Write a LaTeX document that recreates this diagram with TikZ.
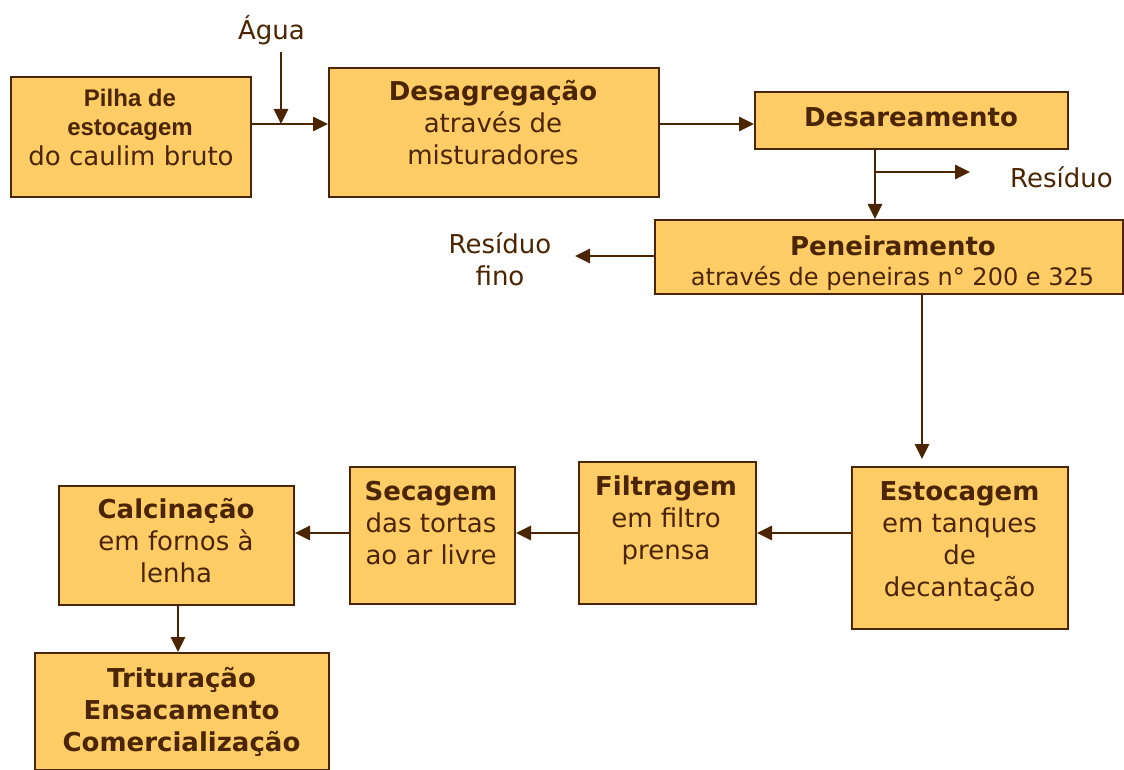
\documentclass[tikz,border=0pt]{standalone}
\usepackage{fontspec}
\setmainfont{DejaVu Sans}
\newfontfamily\arialb{Liberation Sans}
\usetikzlibrary{arrows.meta}
\definecolor{boxfill}{HTML}{FFCC66}
\definecolor{ink}{HTML}{4A2500}
\newcommand{\pilhafont}{\arialb\bfseries\fontsize{24}{32}\selectfont}
\tikzset{
  box/.style={draw=ink, line width=2pt, fill=boxfill, inner sep=0pt, anchor=north west},
  txt/.style={text=ink, align=center, font=\fontsize{26}{32}\selectfont, inner sep=0pt,
    execute at begin node=\strut, execute at end node=\strut},
  small/.style={font=\fontsize{24}{32}\selectfont},
  flow/.style={draw=ink, line width=2.8pt, -{Triangle[length=15pt,width=14pt]}}
}
\begin{document}
\begin{tikzpicture}[x=1pt,y=-1pt]
\useasboundingbox (0,0) rectangle (1124,770);
% boxes
\node[box, minimum width=240pt, minimum height=120pt] (b1) at (10,76) {};
\node[box, minimum width=330pt, minimum height=129pt] (b2) at (328,67) {};
\node[box, minimum width=313pt, minimum height=57pt] (b3) at (754,91) {};
\node[box, minimum width=468pt, minimum height=74pt] (b4) at (654,219) {};
\node[box, minimum width=216pt, minimum height=162pt] (b5) at (851,466) {};
\node[box, minimum width=177pt, minimum height=142pt] (b6) at (578,461) {};
\node[box, minimum width=165pt, minimum height=137pt] (b7) at (349,466) {};
\node[box, minimum width=235pt, minimum height=119pt] (b8) at (58,485) {};
\node[box, minimum width=294pt, minimum height=117pt] (b9) at (34,652) {};
% texts
\node[txt] (t1a) at (130,100.5) {\pilhafont Pilha de};
\node[txt] (t1b) at (130,129.5) {\pilhafont estocagem};
\node[txt] (t1c) at (131,159.5) {do caulim bruto};
\node[txt] (t2) at (493,127.5) {\textbf{Desagregação}\\através de\\misturadores};
\node[txt] (t3) at (911,120) {\textbf{Desareamento}};
\node[txt] (t4a) at (893,249) {\textbf{Peneiramento}};
\node[txt, small] (t4b) at (892.5,279) {através de peneiras n° 200 e 325};
\node[txt] (t5) at (959.5,544) {\textbf{Estocagem}\\em tanques\\de\\decantação};
\node[txt] (t6) at (666,522) {\textbf{Filtragem}\\em filtro\\prensa};
\node[txt] (t7) at (431,528) {\textbf{Secagem}\\das tortas\\ao ar livre};
\node[txt] (t8) at (176,545) {\textbf{Calcinação}\\em fornos à\\lenha};
\node[txt] (t9) at (181.5,714) {\textbf{Trituração}\\\textbf{Ensacamento}\\\textbf{Comercialização}};
\node[txt] (agua) at (271.5,32) {Água};
\node[txt] (res1) at (1061.5,181) {Resíduo};
\node[txt] (res2) at (500,264) {Resíduo\\fino};
% connectors
\coordinate (j1) at (281,124);
\coordinate (aguatop) at (281,52);
\coordinate (j2) at (875,172);
\coordinate (res1e) at (970,172);
\coordinate (res2e) at (575,256);
\coordinate (row) at (0,533);
\coordinate (c9) at (178,0);
\coordinate (c5) at (922,0);
\coordinate (e5) at (922,459);
\draw[flow] (b1.east |- j1) -- (b2.west |- j1);
\draw[flow] (aguatop) -- (j1);
\draw[flow] (b2.east |- j1) -- (b3.west |- j1);
\draw[flow] (b3.south -| j2) -- (b4.north -| j2);
\draw[flow] (j2) -- (res1e);
\draw[flow] (b4.west |- res2e) -- (res2e);
\draw[flow] (b4.south -| c5) -- (e5);
\draw[flow] (b5.west |- row) -- (b6.east |- row);
\draw[flow] (b6.west |- row) -- (b7.east |- row);
\draw[flow] (b7.west |- row) -- (b8.east |- row);
\draw[flow] (b8.south -| c9) -- (b9.north -| c9);
\end{tikzpicture}
\end{document}
